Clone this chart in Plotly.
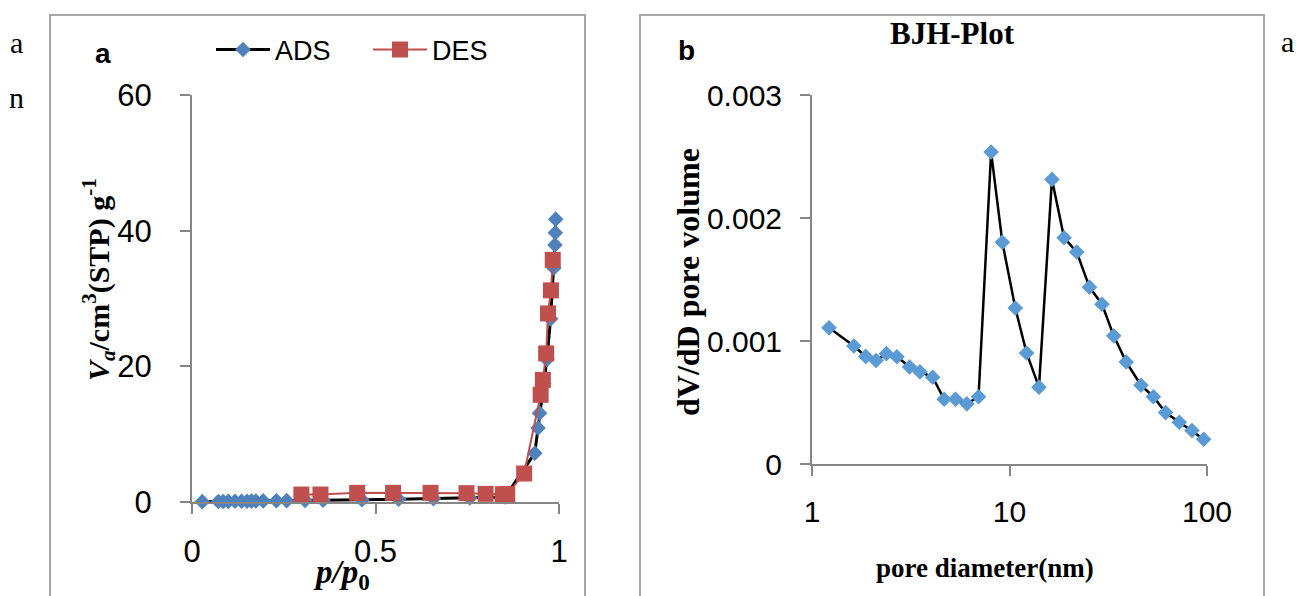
import plotly.graph_objects as go

# ---------------- data ----------------
ads_p = [0.028, 0.072, 0.085, 0.099, 0.117, 0.135, 0.150, 0.162, 0.174, 0.194, 0.230, 0.258,
         0.308, 0.357, 0.463, 0.563, 0.658, 0.757, 0.853, 0.934, 0.943, 0.947, 0.958, 0.967,
         0.977, 0.986, 0.989, 0.990, 0.991]
ads_v = [0.05, 0.07, 0.08, 0.09, 0.10, 0.11, 0.12, 0.13, 0.14, 0.16, 0.18, 0.20,
         0.24, 0.27, 0.33, 0.40, 0.50, 0.60, 0.75, 7.2, 10.9, 13.1, 17.5, 21.0,
         27.0, 34.5, 37.9, 39.7, 41.7]

des_p = [0.298, 0.350, 0.450, 0.548, 0.650, 0.748, 0.800, 0.847, 0.859, 0.905, 0.950, 0.956,
         0.965, 0.970, 0.978, 0.983]
des_v = [1.1, 1.1, 1.35, 1.35, 1.35, 1.3, 1.2, 1.15, 1.15, 4.2, 15.8, 18.0,
         21.9, 27.8, 31.2, 35.7]

bjh_d = [1.22, 1.63, 1.87, 2.11, 2.38, 2.69, 3.12, 3.52, 4.08, 4.67, 5.33, 6.08, 6.97, 8.07,
         9.2, 10.7, 12.2, 14.1, 16.4, 18.9, 21.9, 25.4, 29.4, 33.7, 39.0, 46.3, 53.5, 61.7,
         72.4, 83.9, 96.2]
bjh_v = [0.001107, 0.000959, 0.000875, 0.000841, 0.000897, 0.000872, 0.000789, 0.000749,
         0.000705, 0.000526, 0.000526, 0.000489, 0.000547, 0.002536, 0.001803, 0.001268,
         0.000903, 0.000625, 0.002314, 0.001840, 0.001723, 0.001438, 0.001299, 0.001042,
         0.000829, 0.000640, 0.000547, 0.000418, 0.000340, 0.000272, 0.000201]

left_xticks = [0, 0.5, 1]
left_xticktext = ["0", "0.5", "1"]
left_yticks = [0, 20, 40, 60]
right_xticks = [1, 10, 100]
right_xticktext = ["1", "10", "100"]
right_yticks = [0, 0.001, 0.002, 0.003]
right_yticktext = ["0", "0.001", "0.002", "0.003"]

W, H = 1296, 596
OFF = 0  # body margin removed below
def px(x): return (x - OFF) / W
def py(y): return 1 - (y - OFF) / H

TICKF = "Liberation Sans, Arial, sans-serif"
SERIF = "Liberation Serif, Times New Roman, serif"
SANS = "Liberation Sans, Arial, sans-serif"
AXC = "#868686"

fig = go.Figure()
fig.add_trace(go.Scatter(x=ads_p, y=ads_v, name="ADS", mode="lines+markers",
                         line=dict(color="black", width=3),
                         marker=dict(symbol="diamond", size=12, color="#4F81BD", line=dict(width=0)),
                         xaxis="x", yaxis="y", cliponaxis=False))
fig.add_trace(go.Scatter(x=des_p, y=des_v, name="DES", mode="lines+markers",
                         line=dict(color="#C0504D", width=2),
                         marker=dict(symbol="square", size=16, color="#C0504D", line=dict(width=0)),
                         xaxis="x", yaxis="y", cliponaxis=False))
fig.add_trace(go.Scatter(x=bjh_d, y=bjh_v, name="BJH", mode="lines+markers", showlegend=False,
                         line=dict(color="black", width=2.5),
                         marker=dict(symbol="diamond", size=12, color="#5B9BD5", line=dict(width=0)),
                         xaxis="x2", yaxis="y2", cliponaxis=False))

axis_common = dict(showline=True, linecolor=AXC, linewidth=2, ticks="outside", ticklen=10,
                   tickwidth=2, tickcolor=AXC, showgrid=False, zeroline=False, automargin=False)

fig.update_layout(
    width=W, height=H, autosize=False,
    margin=dict(l=0, r=0, t=0, b=0, autoexpand=False),
    paper_bgcolor="white", plot_bgcolor="white",
    xaxis=dict(domain=[px(192), px(559)], range=[0, 1], tickvals=left_xticks,
               ticktext=left_xticktext, tickfont=dict(family=TICKF, size=31, color="black"),
               ticklabelstandoff=11, anchor="y", **axis_common),
    yaxis=dict(domain=[py(502), py(95)], range=[0, 60], tickvals=left_yticks,
               tickfont=dict(family=TICKF, size=31, color="black"),
               ticklabelstandoff=22, anchor="x", **axis_common),
    xaxis2=dict(domain=[px(812), px(1207)], type="log", range=[0, 2], tickvals=right_xticks,
                ticktext=right_xticktext,
                tickfont=dict(family=TICKF, size=30, color="black"),
                ticklabelstandoff=10, anchor="y2", **axis_common),
    yaxis2=dict(domain=[py(464), py(95)], range=[0, 0.003], tickvals=right_yticks,
                ticktext=right_yticktext,
                tickfont=dict(family=TICKF, size=30, color="black"),
                ticklabelstandoff=12, anchor="x2", **axis_common),
    legend=dict(orientation="h", x=px(211), y=py(50), xanchor="left", yanchor="middle",
                font=dict(family=TICKF, size=27, color="black"), bgcolor="rgba(0,0,0,0)",
                itemwidth=54, entrywidth=88, entrywidthmode="pixels"),
    showlegend=True,
)

# panel borders
for x0, x1 in [(50, 585), (640, 1264)]:
    fig.add_shape(type="rect", xref="paper", yref="paper", x0=px(x0), x1=px(x1),
                  y0=py(15), y1=py(640), line=dict(color="#A6A6A6", width=2),
                  fillcolor="rgba(0,0,0,0)", layer="below")

ann = [
    dict(text="a", x=16, y=43, font=dict(family=SERIF, size=30, color="black")),
    dict(text="n", x=16, y=97, font=dict(family=SERIF, size=30, color="black")),
    dict(text="a", x=1287, y=42, font=dict(family=SERIF, size=30, color="black")),
    dict(text="<b>a</b>", x=103, y=53, font=dict(family=SANS, size=28, color="black")),
    dict(text="<b>b</b>", x=686, y=50, font=dict(family=SANS, size=28, color="black")),
    dict(text="<b>BJH-Plot</b>", x=952, y=34, font=dict(family=SERIF, size=31, color="black")),
    dict(text="<b><i>V<sub>a</sub></i>/cm<sup>3</sup>(STP) g<sup>-1</sup></b>", x=98, y=280,
         textangle=-90, font=dict(family=SERIF, size=30, color="black")),
    dict(text="<b><i>p/p</i><sub>0</sub></b>", x=341, y=574,
         font=dict(family=SERIF, size=33, color="black")),
    dict(text="<b>dV/dD pore volume</b>", x=688, y=282, textangle=-90,
         font=dict(family=SERIF, size=32, color="black")),
    dict(text="<b>pore diameter(nm)</b>", x=985, y=568,
         font=dict(family=SERIF, size=27, color="black")),
]
for a in ann:
    fig.add_annotation(text=a["text"], x=px(a["x"]), y=py(a["y"]), xref="paper", yref="paper",
                       xanchor="center", yanchor="middle", showarrow=False,
                       textangle=a.get("textangle", 0), font=a["font"])

fig.write_html("out.html", config={"displayModeBar": False},
               post_script="document.body.style.margin='0px';document.body.style.overflow='hidden';")
